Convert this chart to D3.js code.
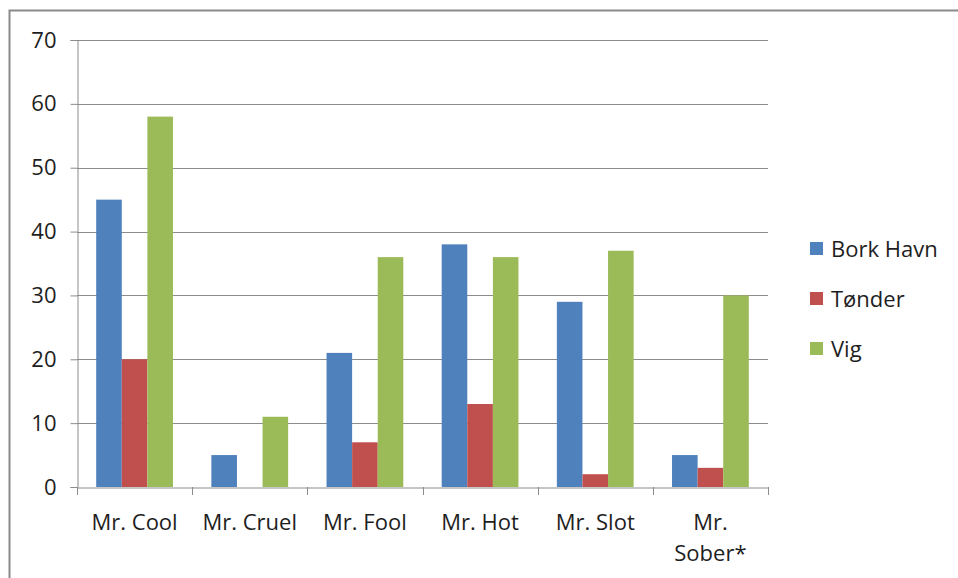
<!DOCTYPE html>
<html>
<head>
<meta charset="utf-8">
<script src="https://cdn.jsdelivr.net/npm/d3@7"></script>
<style>
  body { margin: 0; background: #fff; }
  text { font-family: "Open Sans", sans-serif; fill: #1e1e1e; }
</style>
</head>
<body>
<script>
const w = 958;
const h = 578;

// data
let categories = ["Mr. Cool", "Mr. Cruel", "Mr. Fool", "Mr. Hot", "Mr. Slot", "Mr. Sober*"];
let series = ["Bork Havn", "Tønder", "Vig"];
let borkHavn = [45, 5, 21, 38, 29, 5];
let tonder = [20, 0, 7, 13, 2, 3];
let vig = [58, 11, 36, 36, 37, 30];
let yTicks = [0, 10, 20, 30, 40, 50, 60, 70];
let colors = ["#4f81bd", "#c0504d", "#9bbb59"];

let values = [borkHavn, tonder, vig];

const svg = d3.select("body")
  .append("svg")
  .attr("width", w)
  .attr("height", h);

// outer chart frame
svg.append("rect")
  .attr("x", 9.5)
  .attr("y", 10.5)
  .attr("width", 970)
  .attr("height", 600)
  .attr("fill", "none")
  .attr("stroke", "#8a8a8a")
  .attr("stroke-width", 2);

const plotLeft = 77, plotRight = 768, plotTop = 40, plotBottom = 487;

let x = d3.scaleBand()
  .domain(categories)
  .range([plotLeft, plotRight])
  .paddingInner(0)
  .paddingOuter(0);

// gap = 1.5 bar widths, split on each side of the group
let xs = d3.scaleBand()
  .domain(series)
  .range([0, x.bandwidth()])
  .paddingOuter(0.75)
  .paddingInner(0);

let y = d3.scaleLinear()
  .domain([0, 70])
  .range([plotBottom, plotTop]);

// grid lines
svg.append("g")
  .selectAll("line")
  .data(yTicks.slice(1))
  .enter()
  .append("line")
  .attr("x1", plotLeft)
  .attr("x2", plotRight)
  .attr("y1", d => Math.round(y(d)) + 0.5)
  .attr("y2", d => Math.round(y(d)) + 0.5)
  .attr("stroke", "#8c8c8c")
  .attr("stroke-width", 1);

// y axis
let yAxis = svg.append("g")
  .attr("transform", "translate(" + (plotLeft + 0.5) + ",0)")
  .call(d3.axisLeft(y).tickValues(yTicks).tickSize(7).tickPadding(14));
yAxis.select(".domain").attr("stroke", "#8c8c8c");
yAxis.selectAll(".tick line").attr("stroke", "#8c8c8c");
yAxis.selectAll(".tick text")
  .style("font-size", "22px")
  .style("font-family", "'Open Sans', sans-serif")
  .attr("fill", "#1e1e1e");

// bars
let groups = svg.append("g")
  .selectAll("g")
  .data(series)
  .enter()
  .append("g")
  .attr("fill", (d, i) => colors[i]);

groups.selectAll("rect")
  .data((s, si) => categories.map((c, ci) => ({ c: c, s: s, v: values[si][ci] })))
  .enter()
  .append("rect")
  .attr("x", d => x(d.c) + xs(d.s))
  .attr("y", d => y(d.v))
  .attr("width", xs.bandwidth())
  .attr("height", d => y(0) - y(d.v));

// x axis
let xAxis = svg.append("g")
  .attr("transform", "translate(0," + (plotBottom + 0.5) + ")")
  .call(d3.axisBottom(x).tickSize(0).tickFormat(""));
xAxis.select(".domain").attr("stroke", "#8c8c8c");

// category separators
svg.append("g")
  .selectAll("line")
  .data(d3.range(categories.length + 1))
  .enter()
  .append("line")
  .attr("x1", i => Math.round(plotLeft + i * x.bandwidth()) + 0.5)
  .attr("x2", i => Math.round(plotLeft + i * x.bandwidth()) + 0.5)
  .attr("y1", plotBottom)
  .attr("y2", plotBottom + 8)
  .attr("stroke", "#8c8c8c");

// category labels (wrap "Mr. Sober*")
svg.append("g")
  .selectAll("text")
  .data(categories)
  .enter()
  .append("text")
  .attr("text-anchor", "middle")
  .style("font-size", "22px")
  .each(function(d) {
    let cx = x(d) + x.bandwidth() / 2;
    let lines = d === "Mr. Sober*" ? ["Mr.", "Sober*"] : [d];
    d3.select(this).selectAll("tspan")
      .data(lines)
      .enter()
      .append("tspan")
      .attr("x", cx)
      .attr("y", (l, i) => 530 + i * 31)
      .text(l => l);
  });

// legend
let legend = svg.append("g");
series.forEach(function(s, i) {
  legend.append("rect")
    .attr("x", 810)
    .attr("y", 242 + i * 50)
    .attr("width", 13)
    .attr("height", 13)
    .attr("fill", colors[i]);
  legend.append("text")
    .attr("x", 831)
    .attr("y", 257 + i * 50)
    .style("font-size", "22px")
    .text(s);
});
</script>
</body>
</html>
